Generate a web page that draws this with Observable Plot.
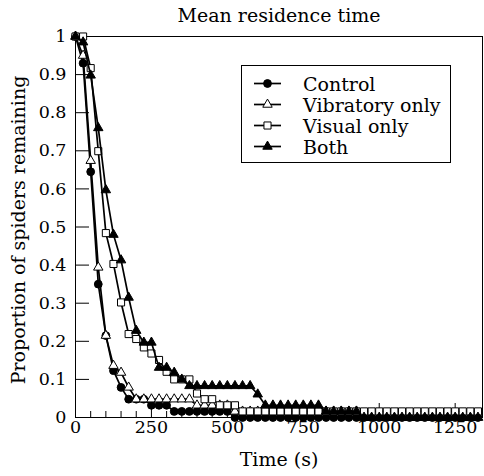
<!DOCTYPE html>
<html><head><meta charset="utf-8">
<script src="https://cdn.jsdelivr.net/npm/d3@7"></script>
<script src="https://cdn.jsdelivr.net/npm/@observablehq/plot@0.6"></script>
<style>
body{margin:0;background:#fff;font-family:"DejaVu Serif","Liberation Serif",serif;color:#000;}
#wrap{position:relative;width:484px;height:476px;}
#title{height:30px;line-height:30px;font-size:19px;text-align:center;padding-left:74px;box-sizing:border-box;width:484px;}
#legend{position:absolute;left:241px;top:65px;width:210px;height:98px;box-sizing:border-box;border:1px solid #000;background:#fff;padding-top:7px;}
.row{height:21px;display:flex;align-items:center;font-size:19px;white-space:nowrap;}
.row svg{margin-left:11px;width:29px;height:21px;flex:none;}
.row span{margin-left:21px;}
</style>
</head><body>
<div id="wrap">
<div id="title">Mean residence time</div>
<div id="chart"></div>
<div id="legend"></div>
</div>
<script>
// Data
const times = [0,25,50,75,100,125,150,175,200,225,250,275,300,325,350,375,400,425,450,475,500,525,550,575,600,625,650,675,700,725,750,775,800,825,850,875,900,925,950,975,1000,1025,1050,1075,1100,1125,1150,1175,1200,1225,1250,1275,1300,1325];
const control = [1.0,0.93,0.645,0.35,0.215,0.123,0.079,0.048,0.048,0.048,0.032,0.032,0.032,
  0.016,0.016,0.016,0.016,0.016,0.016,0.016,0.016,
  0,0,0,0,0,0,0,0,0,0,0,0,0,0,0,0,0,0,0,0,0,0,0,0,0,0,0,0,0,0,0,0,0];
const vibratory = [1.0,0.95,0.674,0.394,0.215,0.136,0.118,0.079,
  0.048,0.048,0.048,0.048,0.048,0.048,0.048,0.048,
  0.032,0.032,0.032,0.032,0.032,
  0.016,0.016,0.016,0.016,0.016,0.016,0.016,0.016,0.016,0.016,0.016,0.016,0.016,0.016,0.016,0.016,0.016,
  0,0,0,0,0,0,0,0,0,0,0,0,0,0,0,0];
const visual = [1.0,1.0,0.917,0.699,0.484,0.403,0.302,0.219,0.206,0.184,0.168,0.151,0.12,0.10,0.10,0.10,
  0.063,0.048,0.048,0.032,0.032,0.032,
  0.016,0.016,0.016,0.016,0.016,0.016,0.016,0.016,0.016,0.016,0.016,0.016,0.016,0.016,0.016,0.016,
  0.016,0.016,0.016,0.016,0.016,0.016,0.016,0.016,0.016,0.016,0.016,0.016,0.016,0.016,0.016,0.016];
const both = [1.0,0.985,0.898,0.76,0.597,0.48,0.413,0.315,0.228,0.197,0.197,0.131,0.131,0.118,0.10,
  0.083,0.083,0.083,0.083,0.083,0.083,0.083,0.083,0.083,
  0.061,
  0.032,0.032,0.032,0.032,0.032,0.032,0.032,0.032,
  0.016,0.016,0.016,0.016,0.016,
  0,0,0,0,0,0,0,0,0,0,0,0,0,0,0,0];
const seriesNames = ["Control","Vibratory only","Visual only","Both"];
const yTicks = [0,0.1,0.2,0.3,0.4,0.5,0.6,0.7,0.8,0.9,1];
const xTicks = [0,250,500,750,1000,1250];
const xMinor = [50,100,150,200,300,350,400,450,550,600,650,700,800,850,900,950,1050,1100,1150,1200,1300];

const W=484, H=446, mL=75, mR=2, mT=6, mB=59;
const fw = W-mL-mR, fh = H-mT-mB;
const FONT = "'DejaVu Serif', 'Liberation Serif', serif";
const styles = [
  {symbol:"circle", fill:"#000", r:3.9},
  {symbol:"triangle", fill:"#fff", r:3.5},
  {symbol:"square", fill:"#fff", r:4.0},
  {symbol:"triangle", fill:"#000", r:3.5}
];
const valuesList = [control, vibratory, visual, both];
const seriesMarks = [];
valuesList.forEach((vals, k) => {
  const data = times.map((t,i)=>({t, v: vals[i]}));
  const st = styles[k];
  seriesMarks.push(Plot.line(data,{x:"t",y:"v",stroke:"#000",strokeWidth:1.7}));
  seriesMarks.push(Plot.dot(data,{x:"t",y:"v",symbol:st.symbol,r:st.r,fill:st.fill,stroke:"#000",strokeWidth:1}));
});

const chart = Plot.plot({
  width:W, height:H, marginLeft:mL, marginRight:mR, marginTop:mT, marginBottom:mB,
  style:{fontFamily:FONT, fontSize:"17.5px", color:"#000", background:"#fff", overflow:"visible"},
  x:{domain:[0,1340], ticks:xTicks, tickSize:0, tickPadding:3, tickFormat:d=>String(d), label:null},
  y:{domain:[0,1], ticks:yTicks, tickSize:0, tickPadding:9, tickFormat:d=>String(d), label:null},
  marks:[
    Plot.tickY(yTicks,{y:d=>d, insetRight: fw-14, stroke:"#000"}),
    Plot.tickX(xTicks,{x:d=>d, insetTop: fh-14, stroke:"#000"}),
    Plot.tickX(xMinor,{x:d=>d, insetTop: fh-6, stroke:"#000"}),
    Plot.frame({stroke:"#000"}),
    ...seriesMarks,
    Plot.text(["Time (s)"],{frameAnchor:"bottom", dy:48, fontSize:19, textAnchor:"middle"}),
    Plot.text(["Proportion of spiders remaining"],{frameAnchor:"left", rotate:-90, dx:-57, dy:3, fontSize:19, textAnchor:"middle"})
  ]
});
document.getElementById("chart").appendChild(chart);

// Legend
const legend = document.getElementById("legend");
seriesNames.forEach((name,k)=>{
  const st = styles[k];
  const row = document.createElement("div");
  row.className = "row";
  const path = d3.symbol(st.symbol==="circle"?d3.symbolCircle:st.symbol==="square"?d3.symbolSquare:d3.symbolTriangle, Math.PI*st.r*st.r)();
  row.innerHTML = `<svg viewBox="0 0 29 21"><line x1="1" x2="28" y1="10.5" y2="10.5" stroke="#000" stroke-width="1.7"/><path transform="translate(14.5,10.5)" d="${path}" fill="${st.fill}" stroke="#000" stroke-width="1"/></svg><span>${name}</span>`;
  legend.appendChild(row);
});
</script>
</body></html>
